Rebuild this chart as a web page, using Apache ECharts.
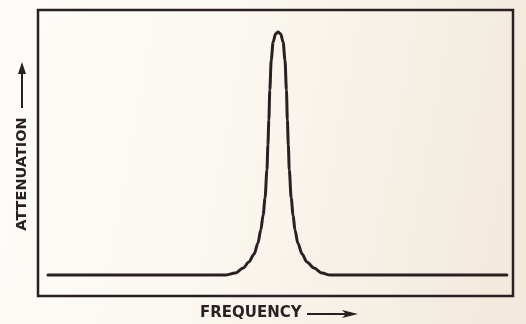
<!DOCTYPE html>
<html>
<head>
<meta charset="utf-8">
<script src="https://cdn.jsdelivr.net/npm/echarts@6/dist/echarts.min.js"></script>
<style>
  html, body { margin: 0; padding: 0; }
  #chart { width: 526px; height: 324px; }
</style>
</head>
<body>
<div id="chart"></div>
<script>
// Resonance response: frequency position (0-100) vs attenuation (0-100)
const frequency = [2.1, 39.4, 41.5, 43.2, 44.4, 45.5, 46.3, 46.9, 47.4, 47.8, 48.2, 48.4, 48.6, 48.8, 49.1, 49.5, 50.0, 50.5, 51.1, 51.6, 52.0, 52.3, 52.5, 52.7, 52.9, 53.3, 53.7, 54.1, 54.7, 55.6, 56.6, 58.1, 59.8, 61.5, 98.7];
const attenuation = [7.3, 7.3, 8.0, 9.8, 11.9, 14.7, 18.5, 23.1, 28.3, 34.3, 44.1, 52.8, 61.5, 72.0, 82.5, 88.8, 91.6, 92.3, 91.6, 88.8, 82.5, 72.0, 61.5, 52.8, 44.1, 34.3, 28.3, 23.1, 18.5, 14.7, 11.9, 9.8, 8.0, 7.3, 7.3];
const xTitle = 'FREQUENCY';
const yTitle = 'ATTENUATION';

const ink = '#2a1f23';
const points = frequency.map((f, i) => [f, attenuation[i]]);

const chart = echarts.init(document.getElementById('chart'), null, { renderer: 'canvas' });
chart.setOption({
  animation: false,
  backgroundColor: {
    type: 'linear', x: 0, y: 0, x2: 1, y2: 0.3,
    colorStops: [
      { offset: 0, color: '#fdfcf8' },
      { offset: 0.45, color: '#fbf8f1' },
      { offset: 1, color: '#f2eadd' }
    ]
  },
  grid: {
    left: 38, top: 10, right: 13, bottom: 28,
    show: true, borderColor: ink, borderWidth: 2.5, backgroundColor: 'transparent'
  },
  xAxis: {
    type: 'value', min: 0, max: 100,
    axisLine: { show: false }, axisTick: { show: false },
    axisLabel: { show: false }, splitLine: { show: false }
  },
  yAxis: {
    type: 'value', min: 0, max: 100,
    axisLine: { show: false }, axisTick: { show: false },
    axisLabel: { show: false }, splitLine: { show: false }
  },
  series: [{
    type: 'line',
    data: points,
    smooth: 0.3,
    smoothMonotone: 'x',
    showSymbol: false,
    lineStyle: { color: ink, width: 3, cap: 'round', join: 'round' }
  }],
  graphic: [
    {
      type: 'text', left: 200, top: 306,
      style: { text: xTitle, fill: ink, font: 'bold 15px "DejaVu Sans"' }
    },
    {
      type: 'line',
      shape: { x1: 307, y1: 314, x2: 348, y2: 314 },
      style: { stroke: ink, lineWidth: 2 }
    },
    {
      type: 'polygon',
      shape: { points: [[358, 314], [342, 310], [346, 314], [342, 318]] },
      style: { fill: ink }
    },
    {
      type: 'text', x: 22, y: 174, rotation: Math.PI / 2,
      style: { text: yTitle, fill: ink, font: 'bold 14.5px "DejaVu Sans"', align: 'center', verticalAlign: 'middle' }
    },
    {
      type: 'line',
      shape: { x1: 22, y1: 108, x2: 22, y2: 72 },
      style: { stroke: ink, lineWidth: 2 }
    },
    {
      type: 'polygon',
      shape: { points: [[22, 62], [18, 74], [26, 74]] },
      style: { fill: ink }
    }
  ]
});
</script>
</body>
</html>
